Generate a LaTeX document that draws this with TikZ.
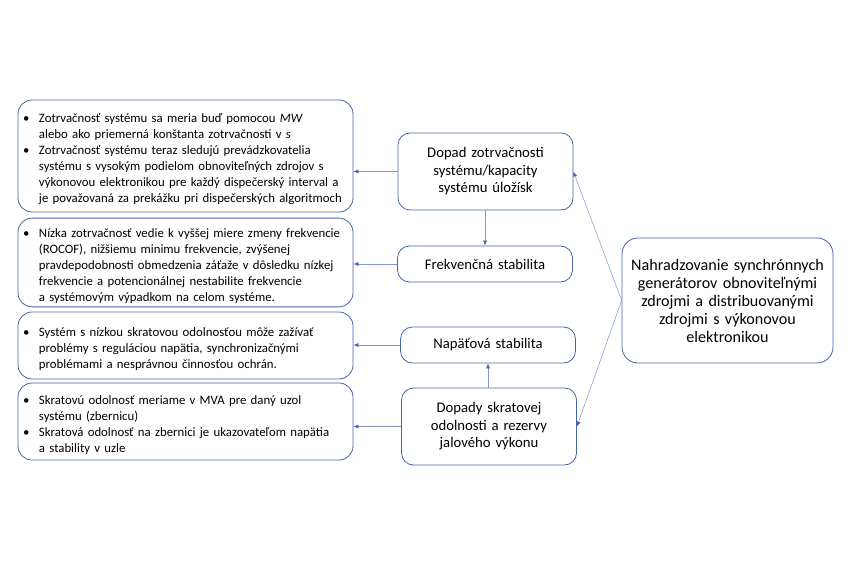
\documentclass[tikz,border=0pt]{standalone}
\usepackage{fontspec}
\setmainfont{Carlito}
\usepackage{xcolor}
\usetikzlibrary{arrows.meta,positioning}

\definecolor{boxblue}{RGB}{70,100,170}
\definecolor{lineblue}{RGB}{130,150,205}
% bullet with hanging indent
\newcommand{\bul}{\par\hangindent=16pt\hangafter=1\noindent\makebox[16pt][l]{\textbullet}}
\newcommand{\nl}{\newline}

\begin{document}
\begin{tikzpicture}[x=1pt,y=-1pt,
	leftbox/.style={draw=boxblue,line width=0.8pt,rounded corners=14pt,text width=325pt,inner xsep=5pt,align=left,font=\fontsize{12.8}{16}\selectfont},
	midbox/.style={draw=boxblue,line width=0.8pt,rounded corners=12pt,text width=165pt,inner xsep=5pt,align=center,font=\fontsize{14.7}{17.5}\selectfont},
	link/.style={draw=lineblue,line width=0.5pt,-{Latex[length=5pt,width=4pt,color=boxblue]}}]
	\useasboundingbox (0,0) rectangle (850,567);
	% left column
	\node[leftbox,minimum height=112pt] (inertia) at (185.5,156) {\bul Zotrvačnosť systému sa meria buď pomocou \textit{MW}\nl alebo ako priemerná konštanta zotrvačnosti v \textit{s}\bul Zotrvačnosť systému teraz sledujú prevádzkovatelia\nl systému s vysokým podielom obnoviteľných zdrojov s\nl výkonovou elektronikou pre každý dispečerský interval a\nl je považovaná za prekážku pri dispečerských algoritmoch\par};
	\node[leftbox,minimum height=87pt] (rocof) at (185.5,262.5) {\bul Nízka zotrvačnosť vedie k vyššej miere zmeny frekvencie\nl (ROCOF), nižšiemu minimu frekvencie, zvýšenej\nl pravdepodobnosti obmedzenia záťaže v dôsledku nízkej\nl frekvencie a potencionálnej nestabilite frekvencie\nl a systémovým výpadkom na celom systéme.\par};
	\node[leftbox,minimum height=67pt] (lowscr) at (185.5,345.5) {\bul Systém s nízkou skratovou odolnosťou môže zažívať\nl problémy s reguláciou napätia, synchronizačnými\nl problémami a nesprávnou činnosťou ochrán.\par};
	\node[leftbox,minimum height=77pt] (mva) at (185.5,421.5) {\bul Skratovú odolnosť meriame v MVA pre daný uzol\nl systému (zbernicu)\bul Skratová odolnosť na zbernici je ukazovateľom napätia\nl a stability v uzle\par};
	% middle column
	\node[midbox,minimum height=77pt] (impinertia) at (485.5,171.5) {Dopad zotrvačnosti\\systému/kapacity\\systému úložísk};
	\node[midbox,minimum height=36pt] (freq) at (485,264) {Frekvenčná stabilita};
	\node[midbox,minimum height=36pt] (volt) at (488,345) {Napäťová stabilita};
	\node[midbox,minimum height=77pt] (impscr) at (489,426.5) {Dopady skratovej\\odolnosti a rezervy\\jalového výkonu};
	% right
	\node[midbox,text width=201pt,minimum height=125pt,rounded corners=16pt,font=\fontsize{16.1}{18}\selectfont] (replace) at (727.5,300.5) {Nahradzovanie synchrónnych\\generátorov obnoviteľnými\\zdrojmi a distribuovanými\\zdrojmi s výkonovou\\elektronikou};
	% connectors
	\draw[link] (impinertia.west) -- (impinertia.west -| inertia.east);
	\draw[link] (impinertia.south -| freq.north) -- (freq.north);
	\draw[link] (freq.west) -- (freq.west -| rocof.east);
	\draw[link] (volt.west) -- (volt.west -| lowscr.east);
	\draw[link] (impscr.west) -- (impscr.west -| mva.east);
	\draw[link] (impscr.north -| volt.south) -- (volt.south);
	\draw[link] (replace.west) -- (impinertia.east);
	\draw[link] (replace.west) -- (impscr.east);
\end{tikzpicture}
\end{document}
